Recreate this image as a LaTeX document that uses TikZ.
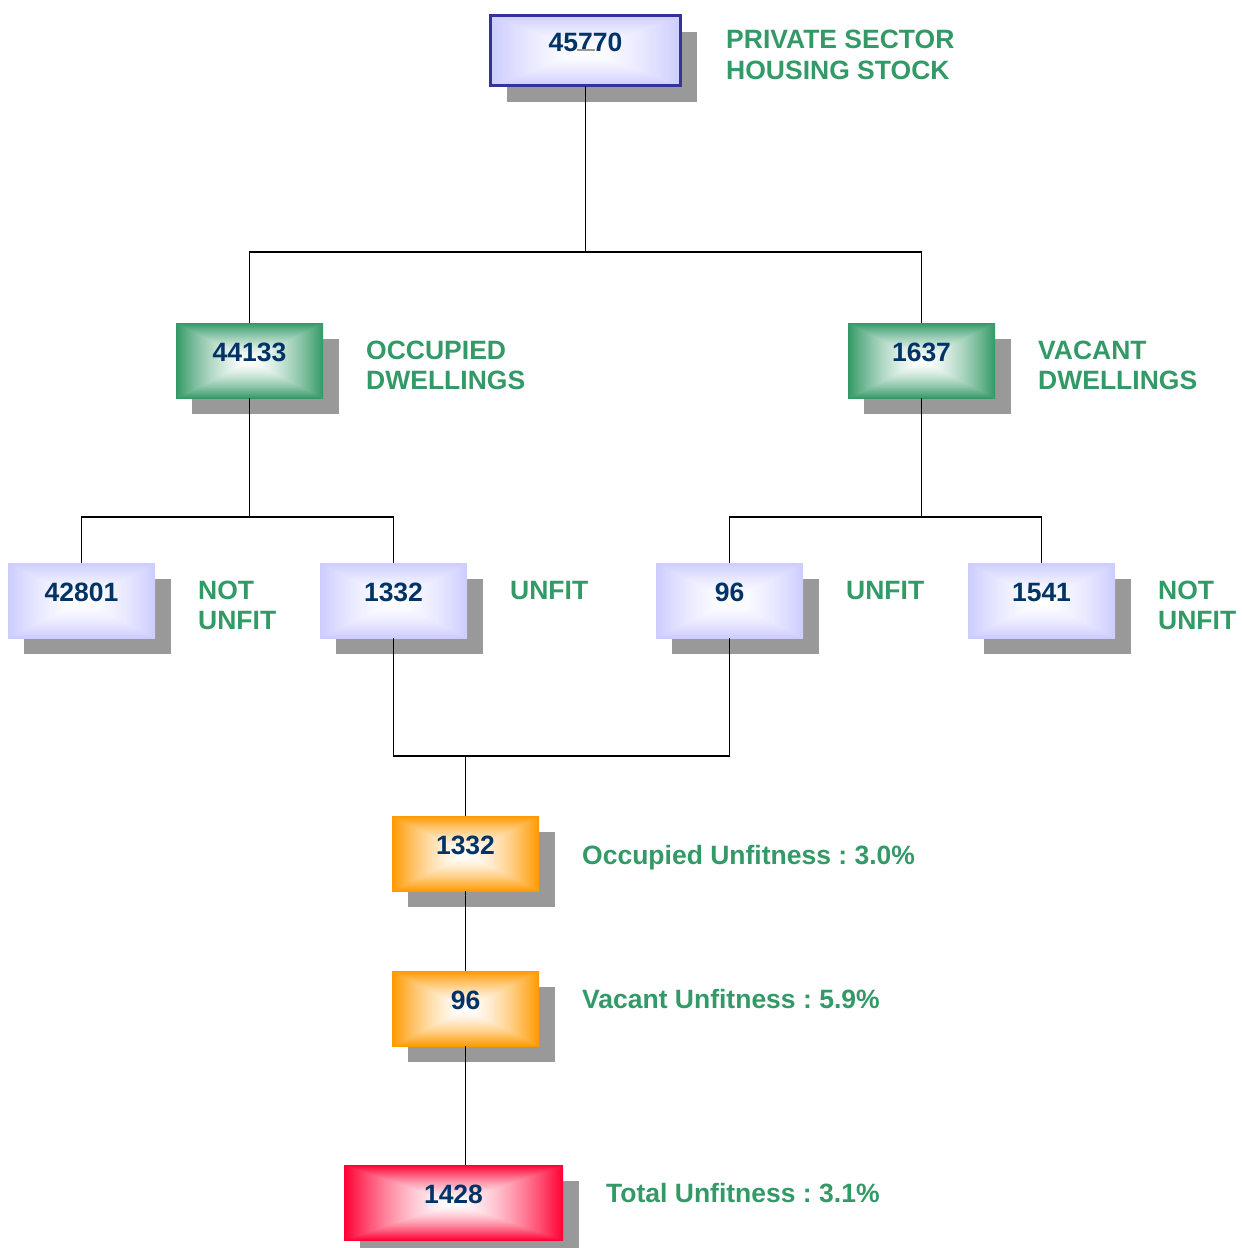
\documentclass[tikz,border=0pt]{standalone}
\usepackage{fontspec}
\setmainfont{Liberation Sans}
\usetikzlibrary{calc}
\frenchspacing
\pgfdeclarelayer{bg}
\pgfsetlayers{bg,main}
\definecolor{navy}{HTML}{003366}
\definecolor{lbl}{HTML}{339966}
\definecolor{shd}{HTML}{999999}
\definecolor{topbd}{HTML}{333399}
% rectangular "from centre" gradients: white in the middle, colour at the edges
% arguments: 1-R, 1-G, 1-B of the edge colour
\newcommand{\mkpyr}[4]{%
  \pgfdeclarefunctionalshading{#1}{\pgfpoint{-50bp}{-50bp}}{\pgfpoint{50bp}{50bp}}{}{%
    abs exch abs 2 copy lt {exch} if pop 25 div dup 1 gt {pop 1} if dup sqrt mul
    dup #2 mul 1 exch sub exch
    dup #3 mul 1 exch sub exch
    #4 mul 1 exch sub
  }}
\mkpyr{pyrlav}{0.2}{0.2}{0.0}
\mkpyr{pyrgrn}{0.8}{0.4}{0.6}
\mkpyr{pyrorg}{0.0}{0.4}{1.0}
\mkpyr{pyrrd}{0.0}{1.0}{0.8}
\tikzset{
 box/.style={rectangle, inner sep=0, outer sep=0, minimum width=147pt, minimum height=75pt, shade, shading=pyr#1},
 num/.style={font=\fontsize{26.5}{30}\selectfont\bfseries, text=navy, inner sep=0},
 lbltxt/.style={font=\fontsize{26.5}{30.5}\selectfont\bfseries, text=lbl, align=left, anchor=west, inner sep=0},
 conn/.style={line width=1.6pt, black},
 shadowbox/.style={fill=shd},
}
\begin{document}
\begin{tikzpicture}[x=1pt,y=-1pt]
\useasboundingbox (0,0) rectangle (1242,1248);
% boxes
\node[box=lav, minimum width=190pt, minimum height=70pt, draw=topbd, line width=3pt] (top) at (585.5,50.5) {};
\node[box=grn] (occ) at (249.5,360.5) {};
\node[box=grn] (vac) at (921.5,360.5) {};
\node[box=lav] (nu1) at (81.5,600.5) {};
\node[box=lav] (u1) at (393.5,600.5) {};
\node[box=lav] (u2) at (729.5,600.5) {};
\node[box=lav] (nu2) at (1041.5,600.5) {};
\node[box=org] (o1) at (465.5,853.5) {};
\node[box=org] (o2) at (465.5,1008.5) {};
\node[box=rd, minimum width=219pt] (red) at (453.5,1202.5) {};
% shadows
\begin{pgfonlayer}{bg}
\foreach \n in {top,occ,vac,nu1,u1,u2,nu2,o1,o2,red}{
  \fill[shadowbox] ($(\n.north west)+(16,16)$) rectangle ($(\n.south east)+(16,16)$);
}
\end{pgfonlayer}
% numbers
\node[num] (ttop) at ($(top.center)+(0,-8)$) {45770};
\draw[shd, line width=1.5pt] (577,50) -- (595,50);
\node[num] (tocc) at ($(occ.center)+(0,-8)$) {44133};
\node[num] (tvac) at ($(vac.center)+(0,-8)$) {1637};
\node[num] (tnu1) at ($(nu1.center)+(0,-8)$) {42801};
\node[num] (tu1) at ($(u1.center)+(0,-8)$) {1332};
\node[num] (tu2) at ($(u2.center)+(0,-8)$) {96};
\node[num] (tnu2) at ($(nu2.center)+(0,-8)$) {1541};
\node[num] (to1) at ($(o1.center)+(0,-8)$) {1332};
\node[num] (to2) at ($(o2.center)+(0,-8)$) {96};
\node[num] (tred) at ($(red.center)+(0,-8)$) {1428};
% connectors
\coordinate (j1) at (585.5,252);
\coordinate (j2) at (249.5,517);
\coordinate (j3) at (921.5,517);
\coordinate (j4) at (465.5,756);
\draw[conn] (top.south) -- (j1);
\draw[conn] (occ.north) |- (j1) -| (vac.north);
\draw[conn] (occ.south) -- (j2);
\draw[conn] (nu1.north) |- (j2) -| (u1.north);
\draw[conn] (vac.south) -- (j3);
\draw[conn] (u2.north) |- (j3) -| (nu2.north);
\draw[conn] (u1.south) |- (j4) -| (u2.south);
\draw[conn] (j4) -- (o1.north);
\draw[conn] (o1.south) -- (o2.north);
\draw[conn] (o2.south) -- (o2.south |- red.north);
% labels
\node[lbltxt] (l1) at (726,55) {PRIVATE SECTOR\\HOUSING STOCK};
\node[lbltxt] (l2) at (366,365.5) {OCCUPIED\\DWELLINGS};
\node[lbltxt] (l3) at (1038,365.5) {VACANT\\DWELLINGS};
\node[lbltxt] (l4) at (198,605.5) {NOT\\UNFIT};
\node[lbltxt] (l5) at (510,591) {UNFIT};
\node[lbltxt] (l6) at (846,591) {UNFIT};
\node[lbltxt] (l7) at (1158,605.5) {NOT\\UNFIT};
\node[lbltxt, anchor=base west] (l8) at (582,864.5) {Occupied Unfitness : 3.0\%};
\node[lbltxt, anchor=base west] (l9) at (582,1008.5) {Vacant Unfitness : 5.9\%};
\node[lbltxt, anchor=base west] (l10) at (606,1202.5) {Total Unfitness : 3.1\%};
\end{tikzpicture}
\end{document}
